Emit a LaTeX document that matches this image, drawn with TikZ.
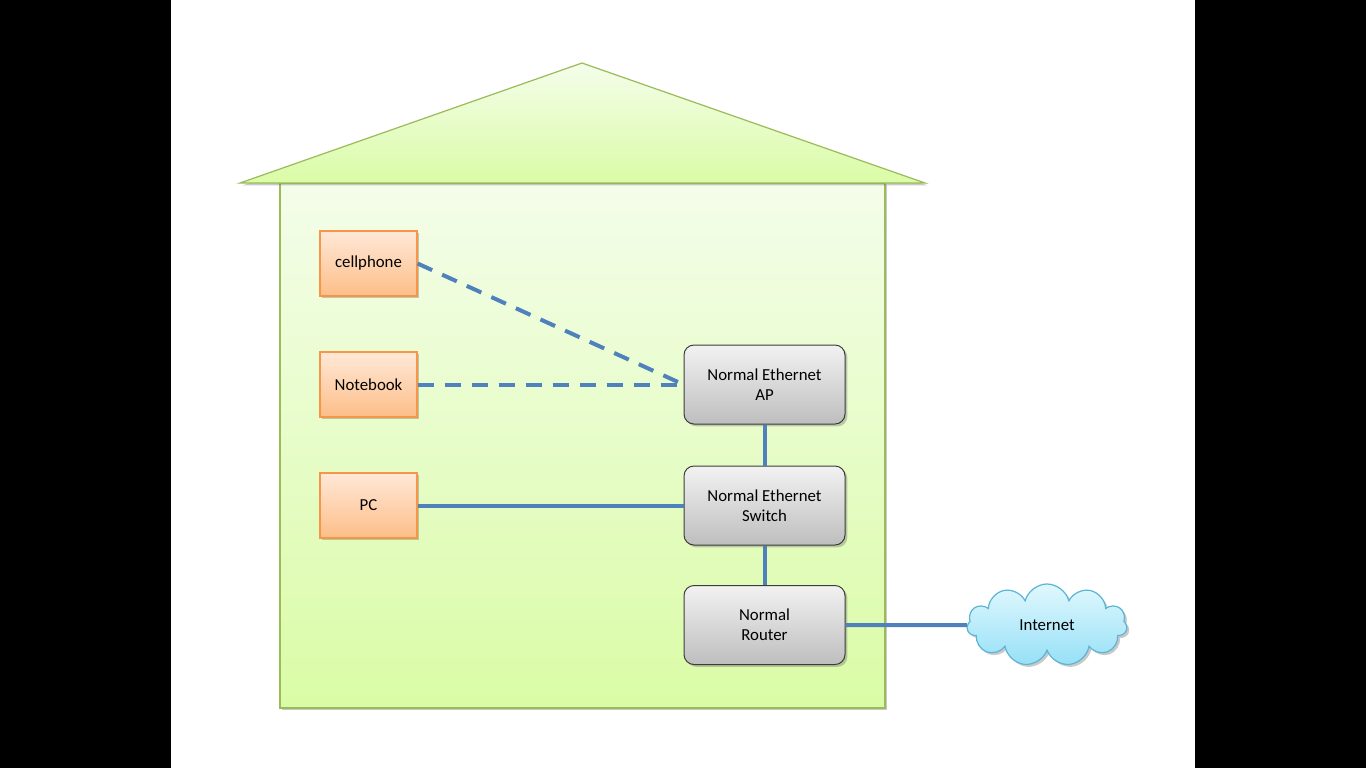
\documentclass[tikz,border=0pt]{standalone}
\usepackage{fontspec}
\setmainfont{Carlito}
\usetikzlibrary{shapes.symbols,shadows}
\definecolor{greenline}{HTML}{9BBB59}
\definecolor{greentop}{HTML}{F4FDEA}
\definecolor{greenbot}{HTML}{DAFCA6}
\definecolor{orangeline}{HTML}{F79646}
\definecolor{orangetop}{HTML}{FFE8D8}
\definecolor{orangebot}{HTML}{FDBE88}
\definecolor{grayline}{HTML}{3C3C3C}
\definecolor{graytop}{HTML}{F2F2F2}
\definecolor{graybot}{HTML}{BEBEBE}
\definecolor{cloudline}{HTML}{5BB5D3}
\definecolor{cloudtop}{HTML}{E0F8FE}
\definecolor{cloudbot}{HTML}{96E0F7}
\definecolor{linkblue}{HTML}{4F81BD}
\tikzset{
  shad/.style={drop shadow={shadow xshift=1.2pt,shadow yshift=-1.2pt,opacity=0.35,fill=black!60}},
  housepart/.style={draw=greenline,line width=0.6pt,top color=greentop,bottom color=greenbot,shad},
  devbox/.style={rectangle,draw=orangeline,line width=0.6pt,top color=orangetop,bottom color=orangebot,
    minimum width=48.5pt,minimum height=32.5pt,inner sep=0pt,font=\fontsize{8.4}{10}\selectfont,shad},
  netbox/.style={rectangle,rounded corners=5pt,draw=grayline,line width=0.5pt,top color=graytop,bottom color=graybot,
    minimum width=80.5pt,minimum height=39.5pt,inner sep=0pt,align=center,font=\fontsize{8.4}{10}\selectfont,shad},
  cloudbox/.style={cloud,cloud puffs=11,aspect=2,draw=cloudline,line width=0.6pt,top color=cloudtop,bottom color=cloudbot,
    minimum width=80pt,minimum height=41pt,inner sep=0pt,font=\fontsize{8.4}{10}\selectfont,shad},
  link/.style={draw=linkblue,line width=2pt},
  wifi/.style={link,dash pattern=on 8pt off 5.5pt}
}
\begin{document}
\begin{tikzpicture}[x=0.5pt,y=-0.5pt]
\useasboundingbox (0,0) rectangle (1366,768);
\fill[black] (0,0) rectangle (171,768);
\fill[black] (1195,0) rectangle (1366,768);
\fill[white] (171,0) rectangle (1195,768);
% house
\path[housepart] (280,183) rectangle (885,708);
\path[housepart] (240,183) -- (582,63) -- (925,183) -- cycle;
% devices
\node[devbox] (cell) at (368.5,263.5) {cellphone};
\node[devbox] (note) at (368.5,384.5) {Notebook};
\node[devbox] (pc) at (368.5,505.5) {PC};
\node[netbox] (ap) at (764.5,384.5) {Normal Ethernet\\AP};
\node[netbox] (sw) at (764.5,505.5) {Normal Ethernet\\Switch};
\node[netbox] (rt) at (764.5,625) {Normal\\Router};
\node[cloudbox] (inet) at (1047,625) {Internet};
% links
\draw[wifi] (cell.east) -- (ap.west);
\draw[wifi] (note.east) -- (ap.west);
\draw[link] (pc.east) -- (sw.west);
\draw[link] (ap.south) -- (sw.north);
\draw[link] (sw.south) -- (rt.north);
\draw[link] (rt.east) -- (inet.west);
\end{tikzpicture}
\end{document}
